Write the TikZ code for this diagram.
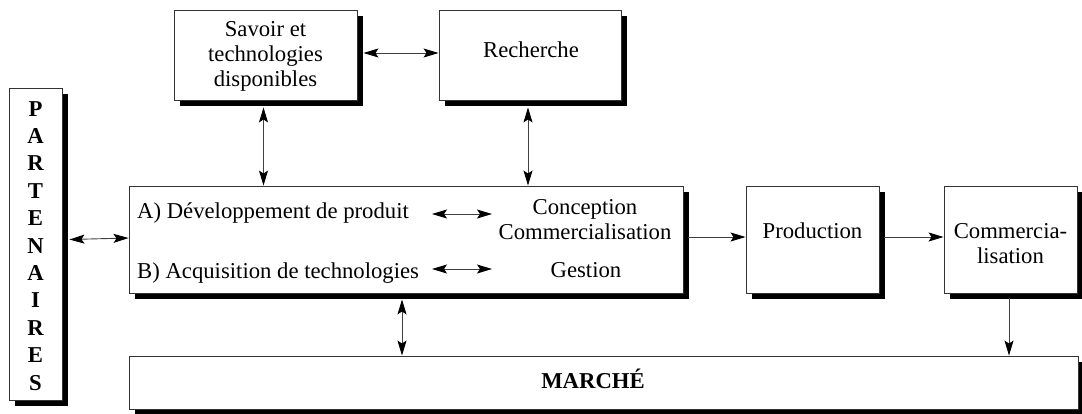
\documentclass[tikz,border=0pt]{standalone}
\usepackage{fontspec}
\setmainfont{Liberation Serif}
\usetikzlibrary{shadows,arrows.meta}
\begin{document}
\begin{tikzpicture}[x=1pt,y=-1pt,
  box/.style={draw=black!80,line width=0.9pt,fill=white,inner sep=0pt,
    drop shadow={shadow xshift=5.5pt,shadow yshift=-5.5pt,fill=black,opacity=1}},
  lbl/.style={font=\fontsize{22.7}{25}\selectfont,inner sep=0pt,anchor=base},
  blbl/.style={lbl,font=\fontsize{22.7}{25}\selectfont\bfseries},
  conn/.style={draw=black!75,line width=0.9pt},
  both/.style={conn,{Stealth[length=15pt,width=9pt,inset=3pt,color=black]}-{Stealth[length=15pt,width=9pt,inset=3pt,color=black]}},
  one/.style={conn,-{Stealth[length=15pt,width=9pt,inset=3pt,color=black]}}]
\useasboundingbox (0,0) rectangle (1082,413);
% boxes
\node[box,minimum width=183pt,minimum height=90pt] (sav) at (265.5,55) {};
\node[box,minimum width=182pt,minimum height=90pt] (rech) at (530,55) {};
\node[box,minimum width=53pt,minimum height=312pt] (part) at (35.5,244) {};
\node[box,minimum width=554pt,minimum height=107pt] (main) at (406,239.5) {};
\node[box,minimum width=133pt,minimum height=107pt] (prod) at (812.5,239.5) {};
\node[box,minimum width=133pt,minimum height=107pt] (comm) at (1010.5,239.5) {};
\node[box,minimum width=949pt,minimum height=53pt] (march) at (603.5,382.5) {};
% texts
\node[lbl] (sav1) at (265.5,36) {Savoir et};
\node[lbl] (sav2) at (265.5,61) {technologies};
\node[lbl] (sav3) at (265.5,86) {disponibles};
\node[lbl] (recht) at (531,57) {Recherche};
\foreach \l [count=\i from 0] in {P,A,R,T,E,N,A,I,R,E,S}
  \node[blbl] (p\i) at (35.5,116+27.4*\i) {\l};
\node[lbl,anchor=base west] (ta) at (137,218) {A) Développement de produit};
\node[lbl,anchor=base west] (tb) at (137,278) {B) Acquisition de technologies};
\node[lbl] (conc) at (585,214) {Conception};
\node[lbl] (comt) at (585,239) {Commercialisation};
\node[lbl] (gest) at (586,277) {Gestion};
\node[lbl] (prodt) at (812.5,238) {Production};
\node[lbl] (comm1) at (1010.5,238) {Commercia-};
\node[lbl] (comm2) at (1010.5,263) {lisation};
\node[blbl] (marcht) at (593,388) {MARCHÉ};
% inner arrow ends
\coordinate (a1) at (432,214);
\coordinate (a2) at (492,214);
\coordinate (b1) at (432,269);
\coordinate (b2) at (492,269);
% connectors
\draw[both] ([xshift=6pt,yshift=2pt]sav.east) -- ([yshift=2pt]rech.west);
\draw[both] ([xshift=-2pt,yshift=-7pt]sav.south) -- ([xshift=-2pt]sav.south |- main.north);
\draw[both] ([xshift=-2pt,yshift=-7pt]rech.south) -- ([xshift=-2pt]rech.south |- main.north);
\draw[both] ([xshift=7pt]part.east |- main.west) -- ([yshift=1.5pt]main.west);
\draw[one] ([xshift=5pt,yshift=2.5pt]main.east) -- ([yshift=2.5pt]prod.west);
\draw[one] ([xshift=5pt,yshift=2.5pt]prod.east) -- ([yshift=2.5pt]comm.west);
\draw[one] ([xshift=-1.5pt,yshift=-5pt]comm.south) -- ([xshift=-1.5pt]comm.south |- march.north);
\draw[both] ([yshift=-6pt]main.south -| 402,0) -- (402,0 |- march.north);
\draw[both] (a1) -- (a2);
\draw[both] (b1) -- (b2);
\end{tikzpicture}
\end{document}
